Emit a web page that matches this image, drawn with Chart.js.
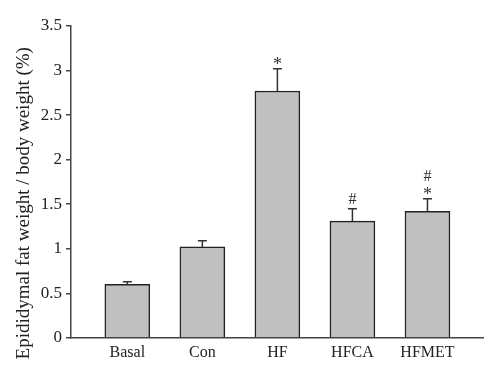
<!DOCTYPE html>
<html>
<head>
<meta charset="utf-8">
<script src="https://cdn.jsdelivr.net/npm/chart.js@4.4.0/dist/chart.umd.min.js"></script>
<style>
  html, body { margin: 0; padding: 0; background: #fff; }
  #wrap { width: 500px; height: 376px; }
</style>
</head>
<body>
<div id="wrap"><canvas id="fat"></canvas></div>
<script>
const groups = ['Basal', 'Con', 'HF', 'HFCA', 'HFMET'];
const fatRatio = [0.60, 1.02, 2.77, 1.31, 1.42];
const fatSem = [0.03, 0.07, 0.25, 0.14, 0.14];
const marks = [[], [], ['*'], ['#'], ['*', '#']];
const yTicks = [0, 0.5, 1, 1.5, 2, 2.5, 3, 3.5];

const serif = '"Liberation Serif", "DejaVu Serif", serif';

// error bars + significance marks, placed through the chart's scales
const errorBars = {
    id: 'errorBars',
    afterDatasetsDraw(chart) {
        const ctx = chart.ctx;
        const xs = chart.scales.x, ys = chart.scales.y;
        ctx.save();
        ctx.strokeStyle = '#333';
        ctx.lineWidth = 1.5;
        ctx.fillStyle = '#333';
        ctx.textAlign = 'center';
        ctx.textBaseline = 'alphabetic';
        fatRatio.forEach((v, i) => {
            const x = xs.getPixelForValue(i);
            const y0 = ys.getPixelForValue(v);
            const y1 = ys.getPixelForValue(v + fatSem[i]);
            ctx.beginPath();
            ctx.moveTo(x, y0);
            ctx.lineTo(x, y1);
            ctx.moveTo(x - 4.5, y1);
            ctx.lineTo(x + 4.5, y1);
            ctx.stroke();
            let ty = y1;
            marks[i].forEach(m => {
                if (m === '*') {
                    ctx.font = '18px ' + serif;
                    ctx.fillText(m, x, ty + 1);
                } else {
                    ctx.font = '16px ' + serif;
                    ctx.fillText(m, x, ty - 5);
                }
                ty -= 13;
            });
        });
        ctx.restore();
    }
};

new Chart(document.getElementById('fat'), {
    type: 'bar',
    data: {
        datasets: [{
            data: fatRatio.map((v, i) => ({ x: i, y: v })),
            backgroundColor: '#c0c0c0',
            borderColor: '#222',
            borderWidth: 1.5,
            barThickness: 45
        }]
    },
    options: {
        responsive: true,
        maintainAspectRatio: false,
        animation: false,
        layout: { padding: { top: 26, right: 17, left: 13, bottom: 9 } },
        plugins: {
            legend: { display: false },
            tooltip: { enabled: false }
        },
        scales: {
            x: {
                type: 'linear',
                offset: false,
                min: -0.75,
                max: 4.74,
                grid: { display: false, drawTicks: false },
                border: { display: true, color: '#444', width: 1.5 },
                ticks: {
                    stepSize: 1,
                    includeBounds: false,
                    autoSkip: false,
                    maxRotation: 0,
                    padding: 5,
                    color: '#222',
                    font: { family: serif, size: 16 },
                    callback: v => Number.isInteger(v) ? groups[v] : ''
                }
            },
            y: {
                min: 0,
                max: 3.5,
                afterBuildTicks: s => { s.ticks = yTicks.map(v => ({ value: v })); },
                grid: { drawOnChartArea: false, color: '#444', tickLength: 5, lineWidth: 1.5 },
                border: { display: true, color: '#444', width: 1.5 },
                ticks: {
                    padding: 4,
                    color: '#222',
                    font: { family: serif, size: 17 },
                    callback: v => String(v)
                },
                title: {
                    display: true,
                    text: 'Epididymal fat weight / body weight (%)         ',
                    color: '#222',
                    font: { family: serif, size: 19 },
                    padding: { top: 0, bottom: 1 }
                }
            }
        }
    },
    plugins: [errorBars]
});
</script>
</body>
</html>
